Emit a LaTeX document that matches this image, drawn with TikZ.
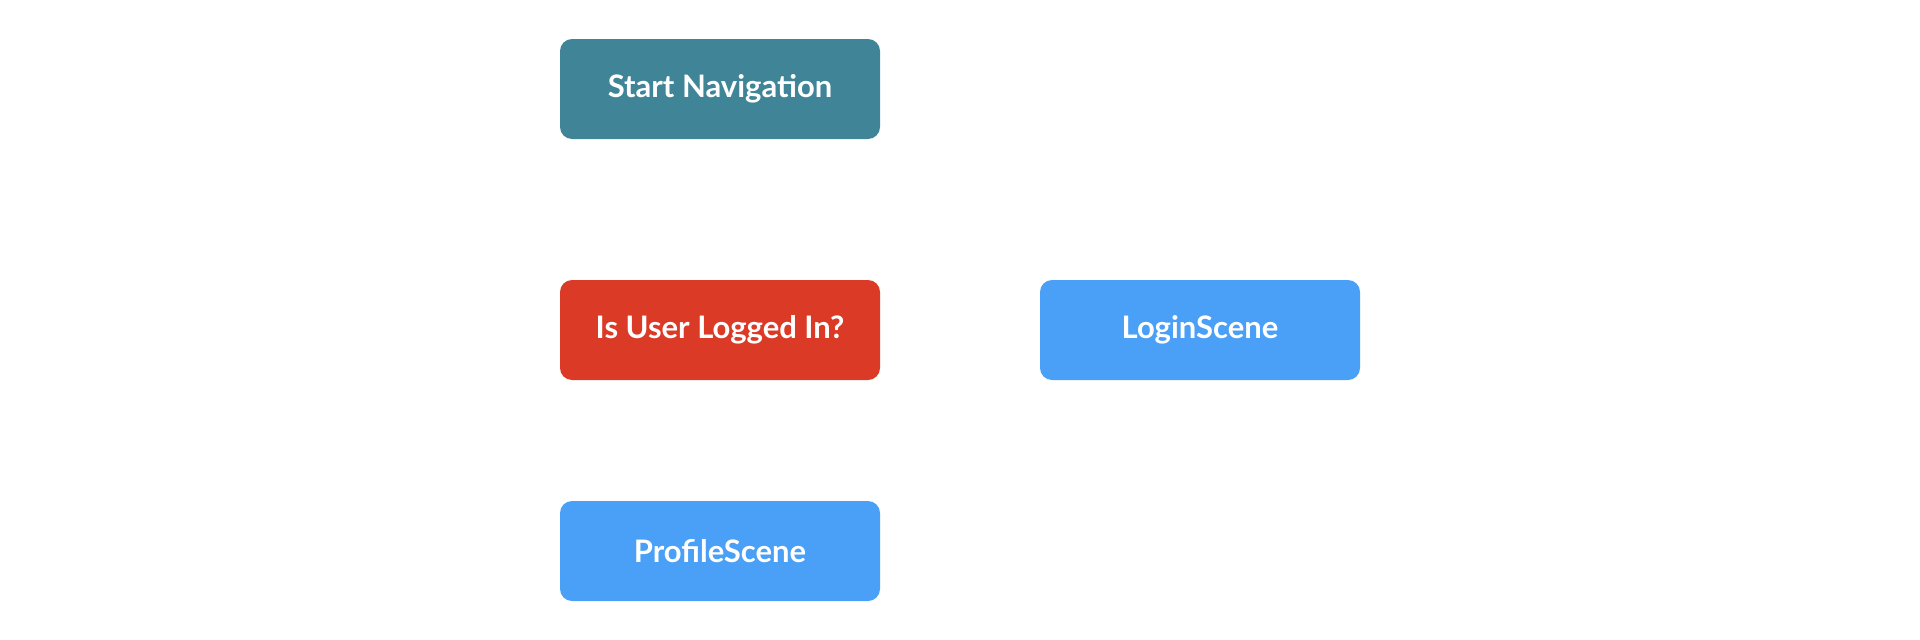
\documentclass[tikz,border=0pt]{standalone}
\usepackage{fontspec}
\setmainfont{Lato}
\definecolor{cteal}{HTML}{3F8497}
\definecolor{cred}{HTML}{DB3A26}
\definecolor{cblue}{HTML}{4AA0F7}
\tikzset{
  box/.style={rounded corners=12pt, minimum width=320pt, minimum height=100pt, inner sep=0pt, text=white, font=\fontsize{31}{36}\selectfont\bfseries}
}
\begin{document}
\begin{tikzpicture}[x=1pt,y=-1pt]
\useasboundingbox (0,0) rectangle (1920,640);
\node[box, fill=cteal] (start) at (720,89) {Start Navigation};
\node[box, fill=cred] (check) at (720,330) {Is User Logged In?};
\node[box, fill=cblue] (login) at (1200,330) {LoginScene};
\node[box, fill=cblue] (profile) at (720,551) {ProfileScene};
\end{tikzpicture}
\end{document}
